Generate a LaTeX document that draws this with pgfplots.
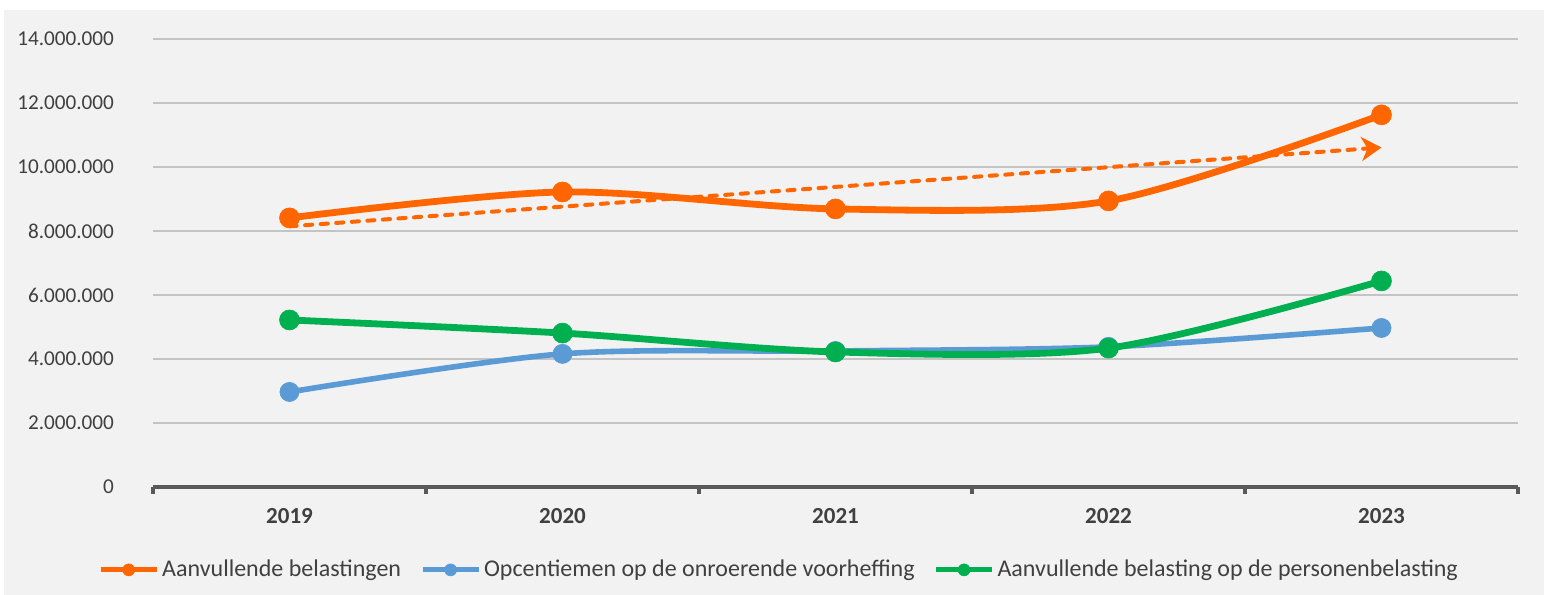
\documentclass[border=0pt]{standalone}
\usepackage{pgfplots}
\pgfplotsset{compat=1.18}
\usepackage{fontspec}
\setmainfont{Carlito}
\usetikzlibrary{arrows.meta}

\definecolor{bg}{HTML}{F2F2F2}
\definecolor{orng}{HTML}{FF6600}
\definecolor{blu}{HTML}{5B9BD5}
\definecolor{grn}{HTML}{00B050}
\definecolor{txt}{HTML}{404040}
\definecolor{axc}{HTML}{595959}
\definecolor{gridc}{HTML}{C4C4C4}

\begin{document}
\begin{tikzpicture}
% canvas: 1px = 0.5pt, axis area SW corner at origin
\path[use as bounding box] (-76.5pt,-54pt) rectangle (695.5pt,243.5pt);
\fill[bg] (-74.5pt,-54pt) rectangle (695.5pt,238.5pt);
\begin{axis}[
    at={(0,0)}, anchor=south west,
    scale only axis,
    width=682.5pt, height=224pt,
    xmin=-0.5, xmax=4.5,
    ymin=0, ymax=14000000,
    xtick={0,1,2,3,4},
    xticklabels={2019,2020,2021,2022,2023},
    minor xtick={-0.5,0.5,1.5,2.5,3.5,4.5},
    ytick={0,2000000,4000000,6000000,8000000,10000000,12000000,14000000},
    scaled y ticks=false,
    /pgf/number format/assume math mode=true,
    /pgf/number format/fixed,
    /pgf/number format/1000 sep={.},
    axis x line*=bottom,
    axis y line*=left,
    y axis line style={draw=none},
    x axis line style={line width=2pt, color=axc},
    ytick style={draw=none},
    major tick length=0pt,
    minor tick length=3.5pt,
    tick align=outside,
    minor tick style={line width=2pt, color=axc},
    ymajorgrids,
    grid style={gridc, line width=0.8pt},
    tick label style={text=txt},
    yticklabel style={font=\fontsize{10.6}{12}\selectfont, xshift=-16pt},
    xticklabel style={font=\bfseries\fontsize{11.5}{13}\selectfont, text=txt, yshift=-7pt},
    legend columns=3,
    legend cell align=left,
    legend style={draw=none, fill=none, at={(0.459,-0.185)}, anchor=center,
        font=\fontsize{12}{14}\selectfont, text=txt,
        nodes={inner xsep=1.5pt},
        /tikz/every even column/.append style={column sep=8pt}},
    legend image code/.code={
        \draw[#1, line width=2.5pt] (0pt,0pt) -- (28pt,0pt);
        \draw[#1, mark size=3pt, mark options={solid, line width=0.3pt}] plot coordinates {(14pt,0pt)};
    },
]

\addplot[orng, line width=3.4pt, smooth, tension=0.5, mark=*, mark size=5pt,
    mark options={solid, line width=0.3pt}]
    coordinates {(0,8410000) (1,9220000) (2,8690000) (3,8940000) (4,11630000)};
\addlegendentry{Aanvullende belastingen}

\addplot[blu, line width=2.8pt, smooth, tension=0.5, mark=*, mark size=4.8pt,
    mark options={solid, line width=0.3pt}]
    coordinates {(0,2970000) (1,4160000) (2,4250000) (3,4380000) (4,4970000)};
\addlegendentry{Opcentiemen op de onroerende voorheffing}

\addplot[grn, line width=3.4pt, smooth, tension=0.5, mark=*, mark size=5pt,
    mark options={solid, line width=0.3pt}]
    coordinates {(0,5220000) (1,4810000) (2,4220000) (3,4340000) (4,6440000)};
\addlegendentry{Aanvullende belasting op de personenbelasting}

% linear trend of the orange series
\addplot[orng, line width=2pt, line cap=round, dash pattern=on 3.6pt off 4.2pt, forget plot,
    -{Stealth[length=10pt, width=12pt, inset=3pt, line cap=butt]}]
    coordinates {(0,8146000) (4,10610000)};

\end{axis}
\end{tikzpicture}
\end{document}
